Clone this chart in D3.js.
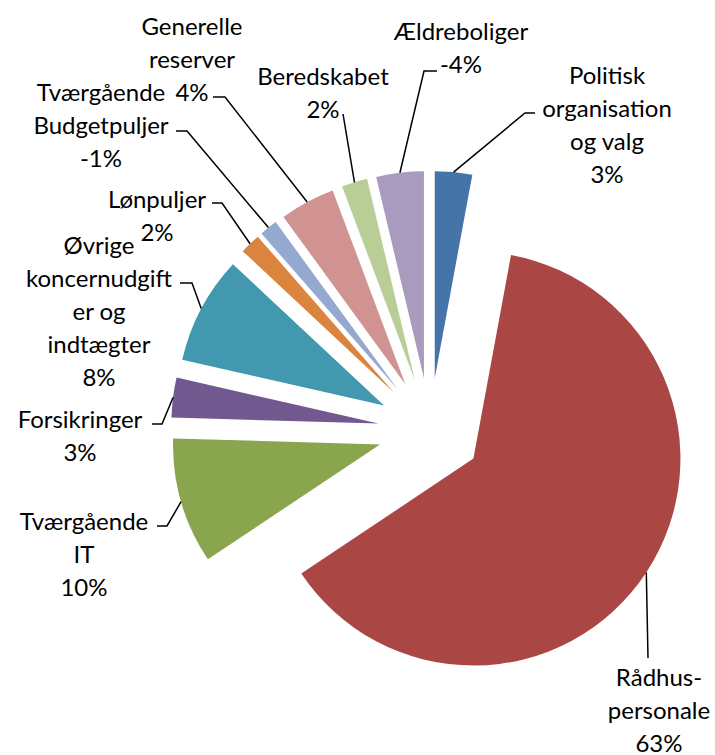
<!DOCTYPE html>
<html>
<head>
<meta charset="utf-8">
<script src="https://cdn.jsdelivr.net/npm/d3@7"></script>
<style>
    body { margin: 0; background: #fff; }
    text { font-family: Lato, "Open Sans", sans-serif; fill: #000; }
</style>
</head>
<body>
<svg id="svgPie" width="715" height="755"></svg>
<script>
// data (signed share in %)
const categories = ["Politisk organisation og valg", "Rådhus-personale", "Tværgående IT", "Forsikringer",
    "Øvrige koncernudgifter og indtægter", "Lønpuljer", "Tværgående Budgetpuljer", "Generelle reserver",
    "Beredskabet", "Ældreboliger"];
const values = [2.9, 62.6, 9.8, 3.1, 8.4, 1.6, -1.4, 4.3, 2.0, -3.7];
// how each category name is wrapped in its label
const labelLines = [
    ["Politisk", "organisation", "og valg"],
    ["Rådhus-", "personale"],
    ["Tværgående", "IT"],
    ["Forsikringer"],
    ["Øvrige", "koncernudgift", "er og", "indtægter"],
    ["Lønpuljer"],
    ["Tværgående", "Budgetpuljer"],
    ["Generelle", "reserver"],
    ["Beredskabet"],
    ["Ældreboliger"]
];
const colors = ["#4674A9", "#AA4744", "#89A54E", "#71588F", "#4198AF",
    "#DB843D", "#93A9CF", "#D19392", "#B9CD96", "#A99BBD"];

// label layout: text centre x, first row y, leader points before the slice
const labelPos = [
    {x: 607, y: 74, lead: [[535, 113], [525, 113]]},
    {x: 659, y: 676, lead: [[648, 658]]},
    {x: 84, y: 520, lead: [[157, 526], [167, 526]]},
    {x: 80, y: 418, lead: [[152, 424], [162, 424]]},
    {x: 99, y: 244, lead: [[180, 283], [192, 283]]},
    {x: 157, y: 198, lead: [[212, 203], [222, 203]]},
    {x: 101, y: 91, lead: [[176, 131], [187, 131]]},
    {x: 192, y: 25, lead: [[213, 97], [225, 97]]},
    {x: 323, y: 75, lead: [[343, 114]]},
    {x: 461, y: 30, lead: [[437, 71], [424, 71]]}
];

const svg = d3.select("#svgPie");
const center = {x: 430, y: 430};
const radius = 207;
const explode = 52;
const rowHeight = 33;

const data = categories.map((c, i) => ({name: c, value: values[i], lines: labelLines[i], color: colors[i], pos: labelPos[i]}));

const pie = d3.pie()
    .sort(null)
    .value(d => Math.abs(d.value));

const arc = d3.arc()
    .innerRadius(0)
    .outerRadius(radius);

const arcs = pie(data);
const midAngle = d => (d.startAngle + d.endAngle) / 2;

const g = svg.append("g")
    .attr("transform", "translate(" + center.x + "," + center.y + ")");

// slices, each pushed out along its bisector
g.selectAll("path")
    .data(arcs)
    .enter().append("path")
    .attr("fill", d => d.data.color)
    .attr("transform", d => {
        const a = midAngle(d);
        return "translate(" + (explode * Math.sin(a)) + "," + (-explode * Math.cos(a)) + ")";
    })
    .attr("d", arc);

// leader lines end on the middle of each slice's outer arc
const line = d3.line();
svg.append("g").selectAll("path")
    .data(arcs)
    .enter().append("path")
    .attr("fill", "none")
    .attr("stroke", "#000")
    .attr("stroke-width", 1.5)
    .attr("d", d => {
        const a = midAngle(d);
        const end = [center.x + (explode + radius) * Math.sin(a), center.y - (explode + radius) * Math.cos(a)];
        return line(d.data.pos.lead.concat([end]));
    });

// labels
const labels = svg.append("g").selectAll("text")
    .data(arcs)
    .enter().append("text")
    .attr("text-anchor", "middle")
    .attr("font-size", 24)
    .attr("dominant-baseline", "central");

labels.selectAll("tspan")
    .data(d => d.data.lines.concat([Math.round(d.data.value) + "%"])
        .map((t, i) => ({t: t, x: d.data.pos.x, y: d.data.pos.y + i * rowHeight})))
    .enter().append("tspan")
    .attr("x", d => d.x)
    .attr("y", d => d.y)
    .text(d => d.t);
</script>
</body>
</html>
